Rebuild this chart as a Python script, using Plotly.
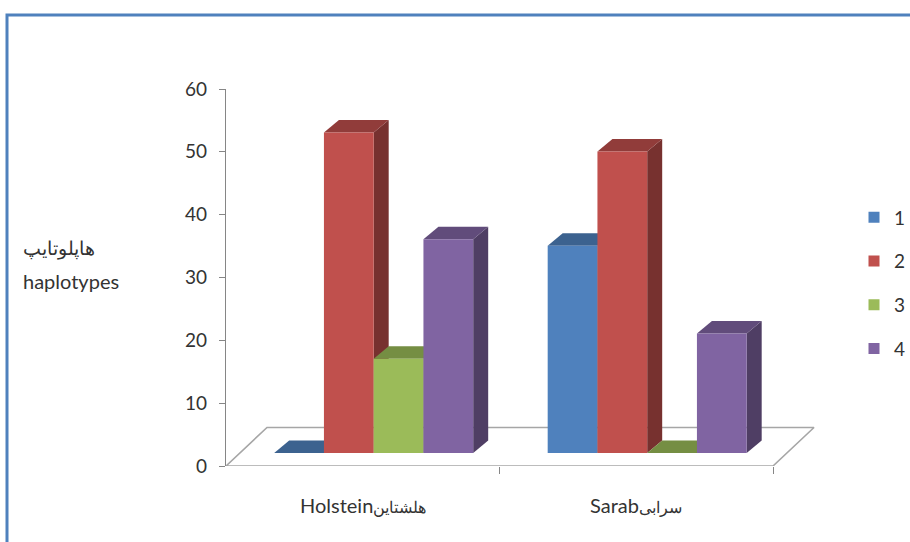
import plotly.graph_objects as go

# ---------------- data ----------------
categories_en = ["Holstein", "Sarab"]
categories_fa = ["هلشتاین", "سرابی"]
series_names = ["1", "2", "3", "4"]
series_1 = [0, 33]
series_2 = [51, 48]
series_3 = [15, 0]
series_4 = [34, 19]
y_tick_values = [0, 10, 20, 30, 40, 50, 60]
y_title_fa = "هاپلوتایپ"
y_title_en = "haplotypes"

series_values = [series_1, series_2, series_3, series_4]
front_colors = ["#4F81BD", "#C0504D", "#9BBB59", "#8064A2"]


def shade(hex_color, k):
    h = hex_color.lstrip("#")
    r, g, b = (int(h[i:i + 2], 16) for i in (0, 2, 4))
    return "rgb(%d,%d,%d)" % (r * k, g * k, b * k)


top_colors = [shade(c, 0.76) for c in front_colors]
side_colors = [shade(c, 0.62) for c in front_colors]

# ---------------- layout geometry (pixels) ----------------
W, H = 910, 542
PX_L, PX_R, PX_T, PX_B = 226, 828, 89, 466
PX_PER_X = 273.5
XR = (PX_R - PX_L) / PX_PER_X
Y_MAX = 60
PX_PER_Y = (PX_B - PX_T) / Y_MAX

# 3D pseudo-depth parameters (converted to data units)
BAR_W = 49.75 / PX_PER_X
BAR_BASE = 13 / PX_PER_Y           # bar front face sits behind floor front edge
GROUP_SHIFT = 0.04                 # x shift of bar front faces due to depth
BAR_DX = 15 / PX_PER_X
BAR_DY = 12.5 / PX_PER_Y
FLOOR_DX = 41 / PX_PER_X
FLOOR_DY = 38.5 / PX_PER_Y
n_series = len(series_values)

fig = go.Figure()

# floor outline
n_cat = len(categories_en)
fig.add_trace(go.Scatter(
    x=[0, n_cat, n_cat + FLOOR_DX, FLOOR_DX, 0],
    y=[0, 0, FLOOR_DY, FLOOR_DY, 0],
    mode="lines", line=dict(color="#A6A6A6", width=1.6),
    hoverinfo="skip", showlegend=False, cliponaxis=False))

# bars: side face, top face, front face
for c in range(n_cat):
    center = c + 0.5 + GROUP_SHIFT
    for s in range(n_series):
        v = series_values[s][c]
        xl = center + (s - n_series / 2) * BAR_W
        xr = xl + BAR_W
        b0 = BAR_BASE
        t = b0 + v
        # side
        fig.add_trace(go.Scatter(
            x=[xr, xr + BAR_DX, xr + BAR_DX, xr, xr],
            y=[b0, b0 + BAR_DY, t + BAR_DY, t, b0],
            fill="toself", fillcolor=side_colors[s], mode="lines",
            line=dict(width=0, color=side_colors[s]),
            hoverinfo="skip", showlegend=False, cliponaxis=False))
        # top
        fig.add_trace(go.Scatter(
            x=[xl, xr, xr + BAR_DX, xl + BAR_DX, xl],
            y=[t, t, t + BAR_DY, t + BAR_DY, t],
            fill="toself", fillcolor=top_colors[s], mode="lines",
            line=dict(width=0, color=top_colors[s]),
            hoverinfo="skip", showlegend=False, cliponaxis=False))
        # front
        if v > 0:
            fig.add_trace(go.Scatter(
                x=[xl, xr, xr, xl, xl],
                y=[b0, b0, t, t, b0],
                fill="toself", fillcolor=front_colors[s], mode="lines",
                line=dict(width=0, color=front_colors[s]),
                name=series_names[s], text=[str(v)] * 5,
                hovertemplate="%{text}<extra>" + series_names[s] + "</extra>",
                showlegend=False, cliponaxis=False))

# legend entries
for s in range(n_series):
    fig.add_trace(go.Scatter(
        x=[None], y=[None], mode="markers", name=series_names[s],
        legendgroup=series_names[s],
        marker=dict(symbol="square", size=11, color=front_colors[s])))

FONT = "Lato, 'Open Sans', sans-serif"
TEXT_COLOR = "#333333"

annotations = []
for c in range(n_cat):
    label = (categories_en[c]
             + '<span style="font-size:16px">' + categories_fa[c] + "</span>")
    annotations.append(dict(
        x=c + 0.5, xref="x", y=(PX_B - 505) / (PX_B - PX_T), yref="paper",
        text=label, showarrow=False, xanchor="center", yanchor="middle",
        font=dict(family=FONT, size=20, color=TEXT_COLOR)))
annotations.append(dict(
    x=(21 - PX_L) / (PX_R - PX_L), xref="paper",
    y=(PX_B - 248) / (PX_B - PX_T), yref="paper",
    text=y_title_fa, showarrow=False, xanchor="left", yanchor="middle",
    font=dict(family=FONT, size=19, color=TEXT_COLOR)))
annotations.append(dict(
    x=(21 - PX_L) / (PX_R - PX_L), xref="paper",
    y=(PX_B - 281) / (PX_B - PX_T), yref="paper",
    text=y_title_en, showarrow=False, xanchor="left", yanchor="middle",
    font=dict(family=FONT, size=20, color=TEXT_COLOR)))

fig.update_layout(
    width=W, height=H,
    margin=dict(l=PX_L, r=W - PX_R, t=PX_T, b=H - PX_B, pad=0,
                autoexpand=False),
    paper_bgcolor="white", plot_bgcolor="rgba(0,0,0,0)",
    font=dict(family=FONT, size=18, color=TEXT_COLOR),
    xaxis=dict(range=[0, XR], showline=False, showgrid=False, zeroline=False,
               tickvals=[1, 2], ticks="outside", ticklen=7,
               tickcolor="#868686", tickwidth=1.2, showticklabels=False,
               fixedrange=True),
    yaxis=dict(range=[0, Y_MAX], showline=True, linecolor="#868686",
               linewidth=1.4, showgrid=False, zeroline=False,
               tickvals=y_tick_values, ticks="outside", ticklen=6,
               tickcolor="#868686", tickwidth=1.2,
               tickfont=dict(family=FONT, size=19, color=TEXT_COLOR),
               ticklabelstandoff=8, fixedrange=True),
    legend=dict(x=(854 - PX_L) / (PX_R - PX_L), xanchor="left",
                y=(PX_B - 283) / (PX_B - PX_T), yanchor="middle",
                font=dict(family=FONT, size=19, color=TEXT_COLOR),
                tracegroupgap=16, bgcolor="rgba(0,0,0,0)"),
    annotations=annotations,
    shapes=[dict(type="rect", xref="paper", yref="paper",
                 x0=(7 - PX_L) / (PX_R - PX_L), x1=(930 - PX_L) / (PX_R - PX_L),
                 y0=(PX_B - 570) / (PX_B - PX_T), y1=(PX_B - 15) / (PX_B - PX_T),
                 line=dict(color="#4F81BD", width=3), layer="below")],
    showlegend=True,
)

fig.write_html("out.html")
